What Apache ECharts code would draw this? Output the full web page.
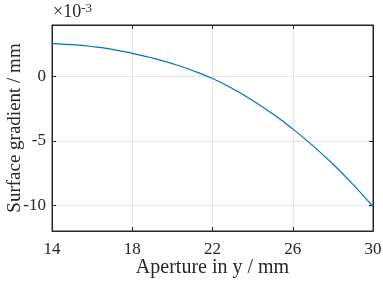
<!DOCTYPE html>
<html><head><meta charset="utf-8">
<script src="https://cdn.jsdelivr.net/npm/echarts@6/dist/echarts.min.js"></script>
<style>html,body{margin:0;padding:0;background:#fff}#c{width:383px;height:282px}</style>
</head><body><div id="c"></div>
<script>
const apertureY = [14,15,16,17,18,19,20,21,22,23,24,25,26,27,28,29,30];
const gradient = [2.56,2.48,2.33,2.11,1.80,1.44,1.00,0.47,-0.16,-0.95,-1.86,-2.90,-4.07,-5.37,-6.80,-8.38,-10.10];
const xTicks = [14,18,22,26,30];
const yTicks = [-10,-5,0];
const xName = 'Aperture in y / mm';
const yName = 'Surface gradient / mm';
const expLabel = '×10';
const expPower = '-3';

const font = 'Liberation Serif';
const axisColor = '#262626';
const chart = echarts.init(document.getElementById('c'));
const pts = apertureY.map((x,i)=>[x,gradient[i]]);
const common = {
  axisLine:{show:true,onZero:false,lineStyle:{color:axisColor,width:1}},
  axisTick:{show:true,inside:true,length:4,lineStyle:{color:axisColor}},
};
chart.setOption({
  animation:false,
  grid:{left:52,right:10,top:25,bottom:51,containLabel:false,outerBoundsMode:'none',
    show:true,borderColor:axisColor,borderWidth:1,backgroundColor:'transparent'},
  xAxis:[{
    type:'value',min:14,max:30,interval:4,position:'bottom',
    ...common,
    axisLabel:{color:'#262626',fontFamily:font,fontSize:17,margin:10},
    splitLine:{show:true,lineStyle:{color:'#e6e6e6',width:1}},
    name:xName,nameLocation:'middle',nameGap:27,nameMoveOverlap:false,
    nameTextStyle:{color:'#262626',fontFamily:font,fontSize:20}
  },{
    type:'value',min:14,max:30,interval:4,position:'top',
    ...common,axisLabel:{show:false},splitLine:{show:false}
  }],
  yAxis:[{
    type:'value',min:-12,max:4,position:'left',
    ...common,
    axisTick:{show:true,inside:true,length:4,lineStyle:{color:axisColor},customValues:yTicks},
    axisLabel:{color:'#262626',fontFamily:font,fontSize:17,margin:6,customValues:yTicks},
    splitLine:{show:true,lineStyle:{color:'#e6e6e6',width:1}},
    name:yName,nameLocation:'middle',nameGap:27,nameRotate:90,nameMoveOverlap:false,
    nameTextStyle:{color:'#262626',fontFamily:font,fontSize:19}
  },{
    type:'value',min:-12,max:4,position:'right',
    ...common,
    axisTick:{show:true,inside:true,length:4,lineStyle:{color:axisColor},customValues:yTicks},
    axisLabel:{show:false},splitLine:{show:false}
  }],
  graphic:[{
    type:'text',left:53,top:2,
    style:{text:expLabel+'{s|'+expPower+'}',fontFamily:font,fontSize:18,fill:'#262626',
      rich:{s:{fontFamily:font,fontSize:13,verticalAlign:'top',padding:[0,0,8,0]}}}
  }],
  series:[{
    type:'line',data:pts,smooth:true,showSymbol:false,
    lineStyle:{color:'#0072BD',width:1.2}
  }]
});
</script></body></html>
